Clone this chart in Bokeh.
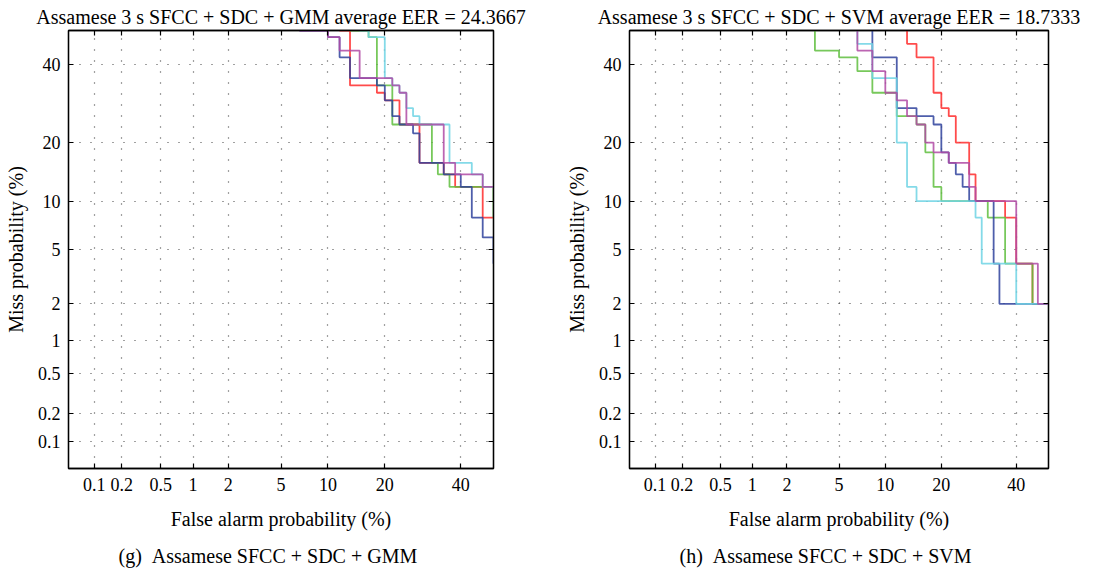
from statistics import NormalDist
from bokeh.plotting import figure
from bokeh.models import FixedTicker, LinearAxis, Range1d, Title, Grid
from bokeh.layouts import row
from bokeh.embed import file_html
from bokeh.resources import INLINE

# ---------------- data (percent) ----------------
tick_values = [0.1, 0.2, 0.5, 1, 2, 5, 10, 20, 40]
tick_labels = ["0.1", "0.2", "0.5", "1", "2", "5", "10", "20", "40"]
axis_min_pct = 0.05
axis_max_pct = 50.0

titles = ["Assamese 3 s SFCC + SDC + GMM average EER = 24.3667",
          "Assamese 3 s SFCC + SDC + SVM average EER = 18.7333"]
captions = ["(g)\u2002Assamese SFCC + SDC + GMM",
            "(h)\u2002Assamese SFCC + SDC + SVM"]

series_names = ["red", "green", "blue", "cyan", "purple"]
series_colors = ["#ff2b2b", "#5fbe3e", "#2f429c", "#6fd4e4", "#b04aa5"]

# GMM panel: false-alarm points where each curve steps down, and miss levels
gmm_red_fa = [11.67, 13.33, 18.33, 20, 23.33, 28.33, 35, 38.33, 46.67]
gmm_red_miss = [52, 50, 34, 32, 30, 24, 16, 14, 12, 8]
gmm_green_fa = [13.33, 16.67, 18.33, 21.67, 31.67, 33.33, 36.67, 50]
gmm_green_miss = [52, 50, 48, 34, 24, 16, 14, 12, 8]
gmm_blue_fa = [6.67, 10, 11.67, 13.33, 18.33, 20, 21.67, 23.33, 26.67, 28.33,
               35, 40, 43.33, 46.67, 50]
gmm_blue_miss = [52, 50, 48, 42, 36, 34, 30, 26, 24, 22, 16, 14, 12, 8, 6, 4]
gmm_cyan_fa = [15, 16.67, 20, 21.67, 23.33, 25, 26.67, 28.33, 36.67, 43.33, 46.67]
gmm_cyan_miss = [52, 50, 48, 36, 34, 32, 28, 26, 24, 16, 14, 12]
gmm_purple_fa = [6.67, 10, 11.67, 15, 21.67, 23.33, 25, 35, 38.33, 46.67]
gmm_purple_miss = [52, 50, 48, 44, 36, 34, 32, 24, 16, 14, 12]

# SVM panel
svm_red_fa = [13.33, 15, 18.33, 20, 21.67, 23.33, 26.67, 28.33, 36.67, 40, 45]
svm_red_miss = [60, 46, 42, 32, 28, 26, 20, 14, 10, 8, 4, 2]
svm_green_fa = [3.33, 5, 6.67, 8.33, 11.67, 15, 16.67, 18.33, 20, 31.67, 36.67, 45]
svm_green_miss = [60, 44, 42, 38, 32, 26, 24, 18, 12, 10, 8, 4, 2]
svm_blue_fa = [8.33, 11.67, 15, 18.33, 20, 21.67, 23.33, 25, 26.67, 33.33, 35]
svm_blue_miss = [60, 42, 28, 26, 24, 18, 16, 14, 12, 10, 4, 2]
svm_cyan_fa = [6.67, 8.33, 11.67, 13.33, 15, 28.33, 30, 40]
svm_cyan_miss = [60, 46, 36, 20, 12, 10, 8, 4, 2]
svm_purple_fa = [6.67, 8.33, 10, 11.67, 13.33, 15, 16.67, 18.33, 21.67, 26.67,
                 28.33, 40, 46.67]
svm_purple_miss = [60, 44, 38, 32, 30, 26, 24, 20, 18, 16, 12, 10, 4, 2]

gmm_curves = [(gmm_red_fa, gmm_red_miss), (gmm_green_fa, gmm_green_miss),
              (gmm_blue_fa, gmm_blue_miss), (gmm_cyan_fa, gmm_cyan_miss),
              (gmm_purple_fa, gmm_purple_miss)]
svm_curves = [(svm_red_fa, svm_red_miss), (svm_green_fa, svm_green_miss),
              (svm_blue_fa, svm_blue_miss), (svm_cyan_fa, svm_cyan_miss),
              (svm_purple_fa, svm_purple_miss)]

# ---------------- helpers ----------------
nd = NormalDist()


def probit(pct):
    return nd.inv_cdf(pct / 100.0)


def stair(drops, levels, x_start=0.05, x_end=60.0):
    xs = [x_start]
    ys = [levels[0]]
    for d, lv_prev, lv in zip(drops, levels[:-1], levels[1:]):
        xs += [d, d]
        ys += [lv_prev, lv]
    xs.append(x_end)
    ys.append(levels[-1])
    return [probit(v) for v in xs], [probit(v) for v in ys]


FONT = "Liberation Serif"
tick_pos = [probit(v) for v in tick_values]
overrides = {pos: lab for pos, lab in zip(tick_pos, tick_labels)}
lo, hi = probit(axis_min_pct), probit(axis_max_pct)


def make_panel(title, caption, curves, frame_w, border_left, border_right):
    p = figure(frame_width=frame_w, frame_height=438,
               output_backend="svg", toolbar_location=None,
               x_range=Range1d(lo, hi), y_range=Range1d(lo, hi),
               x_axis_type=None, y_axis_type=None,
               min_border_left=border_left, min_border_right=border_right,
               min_border_top=30, min_border_bottom=96)
    p.outline_line_color = "black"
    p.outline_line_width = 1.3
    p.outline_line_alpha = 1.0
    p.background_fill_color = "white"
    p.border_fill_color = "white"

    ticker = FixedTicker(ticks=tick_pos)
    for dim in (0, 1):
        p.add_layout(Grid(dimension=dim, ticker=ticker, grid_line_color="#222222",
                          grid_line_dash="1 10", grid_line_width=1.2,
                          grid_line_alpha=0.85))

    def styled_axis(labels, axis_label=None):
        ax = LinearAxis(ticker=FixedTicker(ticks=tick_pos))
        ax.major_tick_in = 5
        ax.major_tick_out = 0
        ax.minor_tick_line_color = None
        ax.axis_line_color = "black"
        ax.axis_line_width = 1.3
        ax.major_tick_line_color = "black"
        ax.major_tick_line_width = 1.2
        if labels:
            ax.major_label_overrides = overrides
            ax.major_label_text_font = FONT
            ax.major_label_text_font_size = "18px"
            ax.major_label_text_color = "black"
            ax.major_label_standoff = 9
            ax.axis_label = axis_label
            ax.axis_label_text_font = FONT
            ax.axis_label_text_font_size = "20px"
            ax.axis_label_text_font_style = "normal"
            ax.axis_label_text_color = "black"
            ax.axis_label_standoff = 14
        else:
            ax.major_label_text_color = None
            ax.major_label_text_font_size = "1px"
            ax.major_label_standoff = 0
        return ax

    p.add_layout(styled_axis(True, "False alarm probability (%)"), "below")
    left_ax = styled_axis(True, "Miss probability (%)")
    left_ax.axis_label_standoff = 8
    left_ax.major_label_standoff = 8
    p.add_layout(left_ax, "left")
    p.add_layout(styled_axis(False), "above")
    p.add_layout(styled_axis(False), "right")

    for (fa, miss), color in zip(curves, series_colors):
        xs, ys = stair(fa, miss)
        p.line(xs, ys, line_color=color, line_width=1.8, line_alpha=0.85)

    p.title.text = title
    p.title.align = "center"
    p.title.text_font = FONT
    p.title.text_font_size = "20px"
    p.title.text_font_style = "normal"
    p.title.text_color = "black"
    p.title.standoff = 6

    p.add_layout(Title(text=caption, align="left", offset=50, text_font=FONT,
                       text_font_size="20px", text_font_style="normal",
                       text_color="black", standoff=21), "below")
    return p


p1 = make_panel(titles[0], captions[0], gmm_curves, 425, 68, 59)
p2 = make_panel(titles[1], captions[1], svm_curves, 419, 77, 50)

layout = row(p1, p2)
open("out.html", "w").write(file_html(layout, INLINE))
